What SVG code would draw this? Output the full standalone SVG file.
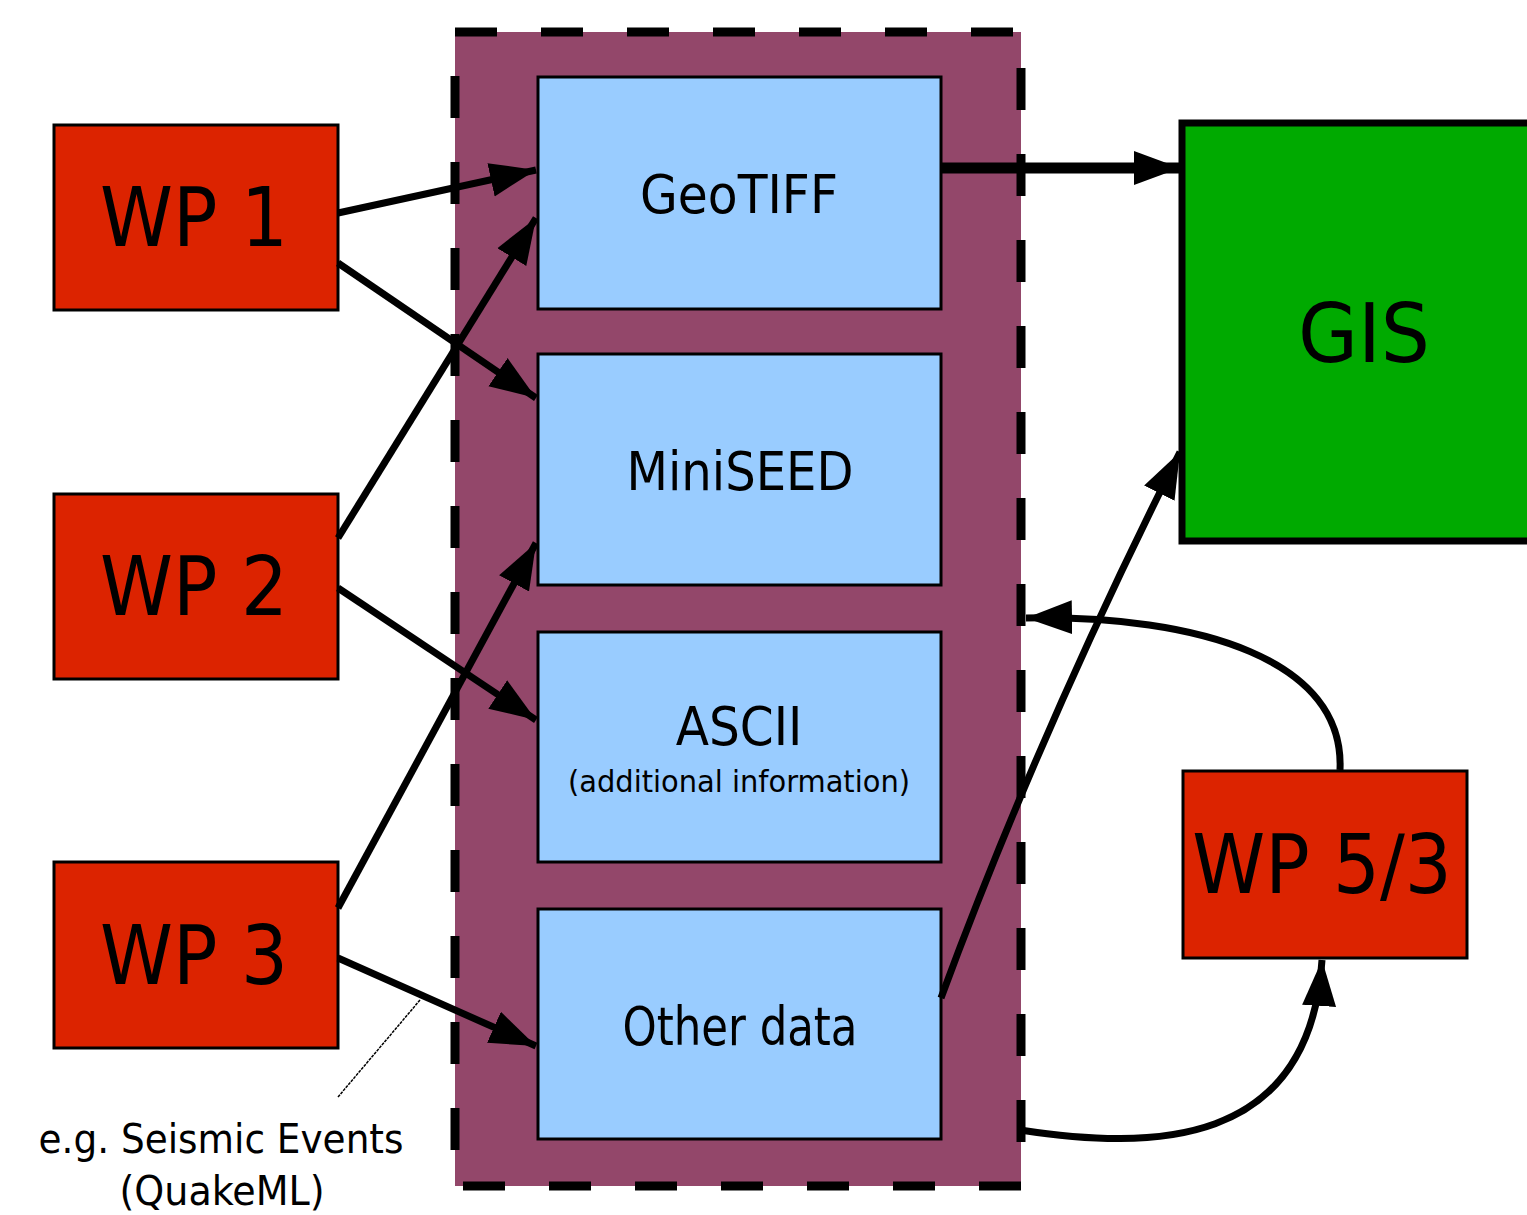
<svg xmlns="http://www.w3.org/2000/svg" width="1527" height="1215" viewBox="0 0 1527 1215">
<style>
text{font-family:"DejaVu Sans Condensed","DejaVu Sans",sans-serif;font-stretch:condensed;fill:#000;text-anchor:middle}
.wp{fill:#dc2300;stroke:#000;stroke-width:3}
.fmt{fill:#99ccff;stroke:#000;stroke-width:3}
.big{font-size:82px}
.mid{font-size:54px}
.c{fill:none;stroke:#000;stroke-width:7}
</style>
<defs>
<marker id="ah" markerUnits="userSpaceOnUse" markerWidth="48" markerHeight="38" refX="46" refY="19" orient="auto" viewBox="0 0 48 38">
<path d="M0,2 L46,19 L0,36 Z" fill="#000"/>
</marker>
</defs>
<g id="container">
<rect x="455" y="32" width="566" height="1154" fill="#93476a" stroke="#000" stroke-width="9" stroke-dasharray="42 44"/>
</g>
<g id="wp1"><rect class="wp" x="54" y="125" width="284" height="185"/><text class="big" x="194" y="246">WP 1</text></g>
<g id="wp2"><rect class="wp" x="54" y="494" width="284" height="185"/><text class="big" x="194" y="615">WP 2</text></g>
<g id="wp3"><rect class="wp" x="54" y="862" width="284" height="186"/><text class="big" x="194" y="984">WP 3</text></g>
<g id="wp53"><rect class="wp" x="1183" y="771" width="284" height="187"/><text class="big" x="1322" y="893">WP 5/3</text></g>
<g id="gis"><rect x="1182" y="123" width="350" height="418" fill="#00aa00" stroke="#000" stroke-width="7"/><text class="big" x="1364" y="362" textLength="132" lengthAdjust="spacingAndGlyphs">GIS</text></g>
<g id="geotiff"><rect class="fmt" x="538" y="77" width="403" height="232"/><text class="mid" x="739" y="213" textLength="198" lengthAdjust="spacingAndGlyphs">GeoTIFF</text></g>
<g id="miniseed"><rect class="fmt" x="538" y="354" width="403" height="231"/><text class="mid" x="740" y="490" textLength="227" lengthAdjust="spacingAndGlyphs">MiniSEED</text></g>
<g id="ascii"><rect class="fmt" x="538" y="632" width="403" height="230"/><text class="mid" x="739" y="745">ASCII</text><text x="739" y="792" font-size="31" textLength="342" lengthAdjust="spacingAndGlyphs">(additional information)</text></g>
<g id="other"><rect class="fmt" x="538" y="909" width="403" height="230"/><text class="mid" x="740" y="1045" textLength="235" lengthAdjust="spacingAndGlyphs">Other data</text></g>
<g id="note"><text x="221" y="1153" font-size="41" textLength="365" lengthAdjust="spacingAndGlyphs">e.g. Seismic Events</text><text x="222" y="1205" font-size="41" textLength="205" lengthAdjust="spacingAndGlyphs">(QuakeML)</text></g>
<g id="connectors">
<path class="c" d="M338,213 L536,170" marker-end="url(#ah)"/>
<path class="c" d="M338,263 L536,398" marker-end="url(#ah)"/>
<path class="c" d="M338,538 L536,218" marker-end="url(#ah)"/>
<path class="c" d="M338,588 L536,720" marker-end="url(#ah)"/>
<path class="c" d="M338,908 L536,543" marker-end="url(#ah)"/>
<path class="c" d="M338,958 L536,1046" marker-end="url(#ah)"/>
<path class="c" d="M941,168 L1180,168" style="stroke-width:11" marker-end="url(#ah)"/>
<path class="c" d="M941,998 Q1040,730 1180,452" marker-end="url(#ah)"/>
<path class="c" d="M1340,770 C1345,660 1200,615 1026,618" marker-end="url(#ah)"/>
<path class="c" d="M1020,1130 C1150,1150 1310,1150 1322,960" marker-end="url(#ah)"/>
<path d="M338,1097 L420,1000" fill="none" stroke="#000" stroke-width="1.5" stroke-dasharray="3 1"/>
</g>
</svg>
